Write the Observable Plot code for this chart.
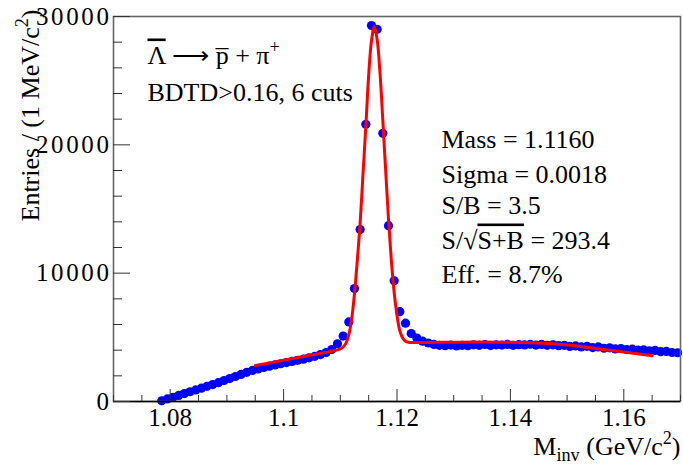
<!DOCTYPE html>
<html>
<head>
<meta charset="utf-8">
<script src="https://cdn.jsdelivr.net/npm/d3@7"></script>
<script src="https://cdn.jsdelivr.net/npm/@observablehq/plot@0.6"></script>
<style>
  html, body { margin: 0; padding: 0; background: #ffffff; }
  #chart svg { display: block; }
</style>
</head>
<body>
<div id="chart"></div>
<script>
// ---- data ----
const massBins = [
  1.0785, 1.0795, 1.0805, 1.0815, 1.0825, 1.0835, 1.0845, 1.0855, 1.0865, 1.0875,
  1.0885, 1.0895, 1.0905, 1.0915, 1.0925, 1.0935, 1.0945, 1.0955, 1.0965, 1.0975,
  1.0985, 1.0995, 1.1005, 1.1015, 1.1025, 1.1035, 1.1045, 1.1055, 1.1065, 1.1075,
  1.1085, 1.1095, 1.1105, 1.1115, 1.1125, 1.1135, 1.1145, 1.1155, 1.1165, 1.1175,
  1.1185, 1.1195, 1.1205, 1.1215, 1.1225, 1.1235, 1.1245, 1.1255, 1.1265, 1.1275,
  1.1285, 1.1295, 1.1305, 1.1315, 1.1325, 1.1335, 1.1345, 1.1355, 1.1365, 1.1375,
  1.1385, 1.1395, 1.1405, 1.1415, 1.1425, 1.1435, 1.1445, 1.1455, 1.1465, 1.1475,
  1.1485, 1.1495, 1.1505, 1.1515, 1.1525, 1.1535, 1.1545, 1.1555, 1.1565, 1.1575,
  1.1585, 1.1595, 1.1605, 1.1615, 1.1625, 1.1635, 1.1645, 1.1655, 1.1665, 1.1675,
  1.1685, 1.1695
];
const entries = [
  60, 200, 330, 470, 620, 760, 900, 1040, 1180, 1320,
  1470, 1630, 1790, 1950, 2110, 2270, 2420, 2540, 2650, 2750,
  2850, 2940, 3030, 3120, 3210, 3300, 3400, 3520, 3660, 3820,
  4050, 4500, 5100, 6200, 8800, 13400, 21600, 29300, 29000, 20900,
  13700, 9400, 7000, 6100, 5300, 4950, 4700, 4560, 4450, 4380,
  4350, 4400, 4330, 4380, 4350, 4420, 4380, 4440, 4360, 4420,
  4400, 4450, 4380, 4430, 4410, 4460, 4400, 4450, 4380, 4420,
  4350, 4380, 4290, 4330, 4250, 4300, 4200, 4250, 4150, 4180,
  4100, 4130, 4050, 4080, 4000, 4020, 3950, 3980, 3880, 3900,
  3820, 3800
];
const fitMass = [
  1.0950, 1.0980, 1.1010, 1.1040, 1.1070, 1.1090, 1.1100, 1.1105, 1.1110, 1.1115,
  1.1120, 1.1125, 1.1130, 1.1135, 1.1140, 1.1145, 1.1150, 1.1155, 1.1160, 1.1165,
  1.1170, 1.1175, 1.1180, 1.1185, 1.1190, 1.1195, 1.1200, 1.1205, 1.1210, 1.1215,
  1.1220, 1.1230, 1.1250, 1.1300, 1.1350, 1.1400, 1.1450, 1.1500, 1.1550, 1.1600,
  1.1650
];
const fitEntries = [
  2800, 3050, 3300, 3550, 3800, 3970, 4100, 4250, 4550, 5200,
  6400, 8400, 11000, 13900, 17700, 21400, 25400, 28100, 29200, 28200,
  25600, 21900, 18000, 14200, 11000, 8500, 6700, 5500, 4950, 4700,
  4620, 4600, 4600, 4620, 4630, 4610, 4560, 4400, 4130, 3860,
  3560
];
const xTicks = [1.08, 1.10, 1.12, 1.14, 1.16];
const xTickLabels = ["1.08", "1.1", "1.12", "1.14", "1.16"];
const xMinorTicks = [1.070, 1.075, 1.085, 1.090, 1.095, 1.105, 1.110, 1.115, 1.125, 1.130,
                     1.135, 1.145, 1.150, 1.155, 1.165, 1.170];
const yTicks = [0, 10000, 20000, 30000];
const yTickLabels = ["0", "10000", "20000", "30000"];
const yMinorTicks = [2000, 4000, 6000, 8000, 12000, 14000, 16000, 18000, 22000, 24000, 26000, 28000];

const xTitle = "M_{inv} (GeV/c^{2})";
const yTitle = "Entries / (1 MeV/c^{2})";
const decayLabel = "~{Λ} ⟶ p\u0305 + π^{+}";
const cutLabel = "BDTD>0.16, 6 cuts";
const statLabels = ["Mass = 1.1160", "Sigma = 0.0018", "S/B = 3.5", "S/√~{S+B} = 293.4", "Eff. = 8.7%"];

// ---- tables built from the arrays ----
const points = massBins.map((m, i) => ({m, n: entries[i]}));
const fit = fitMass.map((m, i) => ({m, n: fitEntries[i]}));

const FONT = "'Liberation Serif', 'Times New Roman', serif";
const axisColor = "#333";

const statDy = [131, 166, 197, 232, 266];

const chart = Plot.plot({
  width: 683,
  height: 464,
  marginLeft: 113,
  marginRight: 3,
  marginTop: 16,
  marginBottom: 63,
  style: {fontFamily: FONT, fontSize: "25px", background: "#ffffff", color: "#000", overflow: "visible"},
  x: {domain: [1.07, 1.17]},
  y: {domain: [0, 30000]},
  marks: [
    Plot.dot(points, {x: "m", y: "n", r: 4.6, fill: "#0000ff", stroke: "none"}),
    Plot.line(fit, {x: "m", y: "n", stroke: "#ff0000", strokeWidth: 3, curve: "catmull-rom"}),
    Plot.frame({stroke: "#666", strokeWidth: 1.6}),
    Plot.ruleY([0], {stroke: "#000", strokeWidth: 1.4}),
    // ticks (inward)
    Plot.axisX(xMinorTicks, {tickSize: -6, fill: "none", stroke: axisColor, label: null}),
    Plot.axisX(xTicks, {tickSize: -12, fill: "none", stroke: axisColor, label: null}),
    Plot.axisY(yMinorTicks, {tickSize: -9, fill: "none", stroke: axisColor, label: null}),
    Plot.axisY(yTicks, {tickSize: -17, fill: "none", stroke: axisColor, label: null}),
    // tick labels
    Plot.axisX(xTicks, {tickSize: 0, tickPadding: 7, label: null, fontSize: 25,
      tickFormat: d => xTickLabels[xTicks.indexOf(d)]}),
    Plot.axisY(yTicks, {tickSize: 0, tickPadding: 2, label: null, fontSize: 25,
      tickFormat: d => yTickLabels[yTicks.indexOf(d)]}),
    // axis titles
    Plot.text([xTitle], {frameAnchor: "bottom-right", textAnchor: "end", lineAnchor: "bottom",
      dy: 53, fontSize: 26, text: d => d}),
    Plot.text([yTitle], {frameAnchor: "top-left", textAnchor: "end", lineAnchor: "bottom",
      rotate: -90, dx: -75, dy: -7, fontSize: 26, text: d => d}),
    // annotations
    Plot.text([decayLabel], {frameAnchor: "top-left", textAnchor: "start", lineAnchor: "bottom",
      dx: 34, dy: 47, fontSize: 26, text: d => d}),
    Plot.text([cutLabel], {frameAnchor: "top-left", textAnchor: "start", lineAnchor: "bottom",
      dx: 34, dy: 84, fontSize: 26, text: d => d}),
    ...statLabels.map((s, i) => Plot.text([s], {frameAnchor: "top-left", textAnchor: "start",
      lineAnchor: "bottom", dx: 328, dy: statDy[i], fontSize: 26, text: d => d}))
  ]
});

// rich text: ^{sup}, _{sub}, ~{overline}
function richify(svg) {
  d3.select(svg).selectAll("text").each(function () {
    const t = this.textContent;
    if (!/[\^_~]\{/.test(t)) return;
    const size = parseFloat(getComputedStyle(this).fontSize) || 26;
    const sel = d3.select(this);
    sel.text(null);
    const re = /([\^_~])\{([^}]*)\}|([^\^_~]+)/g;
    let m, shift = 0;
    while ((m = re.exec(t)) !== null) {
      const ts = sel.append("tspan");
      if (m[3] !== undefined) {
        ts.text(m[3]);
        if (shift !== 0) { ts.attr("dy", -shift); shift = 0; }
      } else if (m[1] === "^") {
        const d = -0.42 * size;
        ts.text(m[2]).attr("font-size", size * 0.7).attr("dy", d - shift);
        shift = d;
      } else if (m[1] === "_") {
        const d = 0.25 * size;
        ts.text(m[2]).attr("font-size", size * 0.7).attr("dy", d - shift);
        shift = d;
      } else if (m[1] === "~") {
        ts.text(m[2]).style("text-decoration", "overline");
        if (shift !== 0) { ts.attr("dy", -shift); shift = 0; }
      }
    }
  });
  // wider digit spacing on y tick labels
  d3.select(svg).selectAll("g[aria-label='y-axis tick label'] text").style("letter-spacing", "2.6px");
}
richify(chart);
document.getElementById("chart").appendChild(chart);
</script>
</body>
</html>
